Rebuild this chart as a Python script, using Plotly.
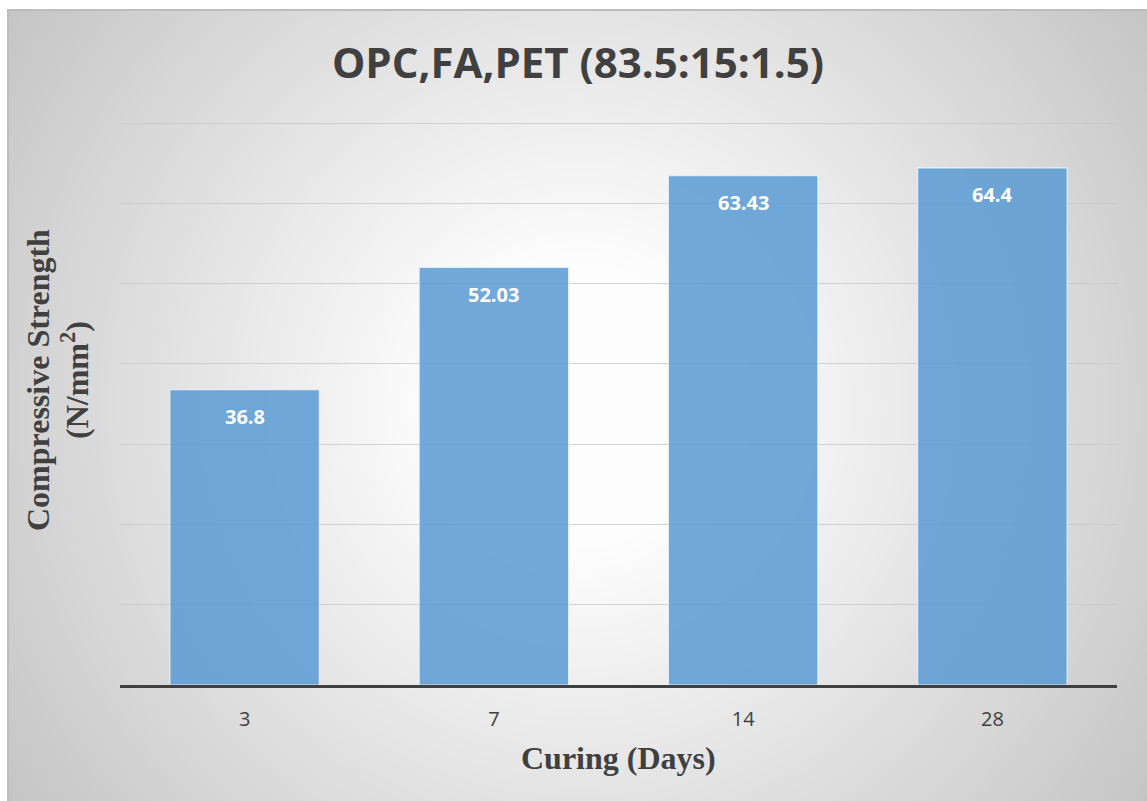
import base64
import struct
import zlib

import numpy as np
import plotly.graph_objects as go

# Compressive strength of the OPC / fly ash / PET mix at each curing age
curing_days = ["3", "7", "14", "28"]
strength = [36.8, 52.03, 63.43, 64.4]

Y_MAX = 70.5

W, H = 1147, 801
M_L, M_R, M_T, M_B = 120, 30, 119, 116
PW, PH = W - M_L - M_R, H - M_T - M_B

TEXT = "#404040"


def px_x(p):
    return (p - M_L) / PW


def px_y(p):
    return (H - M_B - p) / PH


def gray_png(arr):
    """Encode a 2-D uint8 array as a grayscale PNG data URI."""
    h, w = arr.shape
    raw = b"".join(b"\x00" + arr[i].tobytes() for i in range(h))

    def chunk(tag, data):
        body = tag + data
        return struct.pack(">I", len(data)) + body + struct.pack(">I", zlib.crc32(body) & 0xFFFFFFFF)

    png = b"\x89PNG\r\n\x1a\n"
    png += chunk(b"IHDR", struct.pack(">IIBBBBB", w, h, 8, 0, 0, 0, 0))
    png += chunk(b"IDAT", zlib.compress(raw, 9))
    png += chunk(b"IEND", b"")
    return "data:image/png;base64," + base64.b64encode(png).decode()


# Radial grey-to-white chart-area fill
fx0, fy0, fx1, fy1 = 8, 10, 1148, 806
fw, fh = fx1 - fx0, fy1 - fy0
cx, cy = 578 - fx0, 405 - fy0
yy, xx = np.mgrid[0:fh, 0:fw]
dist = np.hypot(xx - cx, yy - cy)
rmax = np.hypot(cx, cy)
t = np.clip((dist / rmax - 0.2) / 0.8, 0, 1)
shade = (253 - 56 * t).round().astype(np.uint8)
bg_uri = gray_png(shade)

fig = go.Figure()

fig.add_trace(
    go.Bar(
        x=curing_days,
        y=strength,
        marker=dict(
            color="rgba(91,155,213,0.86)",
            line=dict(color="rgba(235,243,250,0.9)", width=1.2),
        ),
        hoverinfo="x+y",
    )
)

annotations = []
# value labels; category axes place annotations by category index
for i, val in enumerate(strength):
    annotations.append(
        dict(
            x=i, y=val, xref="x", yref="y",
            text=f"{val}", showarrow=False,
            yanchor="middle", yshift=-27,
            font=dict(family="Open Sans", size=20, color="white", weight="bold"),
        )
    )

# axis titles
serif = dict(family="Liberation Serif", size=32, color=TEXT, weight="bold")
annotations.append(
    dict(x=0.5, y=0, xref="paper", yref="paper", text="Curing (Days)",
         showarrow=False, yanchor="middle", yshift=-73, font=serif)
)
annotations.append(
    dict(x=px_x(38), y=px_y(380), xref="paper", yref="paper",
         text="Compressive Strength", textangle=-90, showarrow=False,
         xanchor="center", yanchor="middle", font=serif)
)
annotations.append(
    dict(x=px_x(75), y=px_y(380), xref="paper", yref="paper",
         text="(N/mm<sup>2</sup>)", textangle=-90, showarrow=False,
         xanchor="center", yanchor="middle", font=serif)
)

fig.update_layout(
    width=W,
    height=H,
    margin=dict(l=M_L, r=M_R, t=M_T, b=M_B),
    paper_bgcolor="white",
    plot_bgcolor="rgba(0,0,0,0)",
    bargap=0.4,
    showlegend=False,
    title=dict(
        text="OPC,FA,PET (83.5:15:1.5)",
        x=578 / W, xref="container", xanchor="center",
        y=1 - 63 / H, yref="container", yanchor="middle",
        font=dict(family="Open Sans", size=42, color=TEXT, weight="bold"),
    ),
    xaxis=dict(
        type="category",
        range=[-0.5, len(curing_days) - 0.5],
        showline=True, linecolor=TEXT, linewidth=3,
        showgrid=False, ticks="", ticklabelstandoff=14,
        tickfont=dict(family="Open Sans", size=20, color=TEXT),
    ),
    yaxis=dict(
        range=[0, Y_MAX], dtick=10, showticklabels=False,
        showgrid=True, gridcolor="rgba(200,200,200,0.8)", gridwidth=1,
        zeroline=False, showline=False, ticks="",
    ),
    images=[
        dict(
            source=bg_uri, xref="paper", yref="paper",
            x=px_x(fx0), y=px_y(fy0),
            sizex=fw / PW, sizey=fh / PH,
            sizing="stretch", xanchor="left", yanchor="top",
            layer="below",
        )
    ],
    shapes=[
        dict(
            type="rect", xref="paper", yref="paper", layer="below",
            x0=px_x(fx0), x1=px_x(fx1), y0=px_y(fy1), y1=px_y(fy0),
            line=dict(color="#bdbdbd", width=2), fillcolor="rgba(0,0,0,0)",
        )
    ],
    annotations=annotations,
)

fig.write_html("out.html")
